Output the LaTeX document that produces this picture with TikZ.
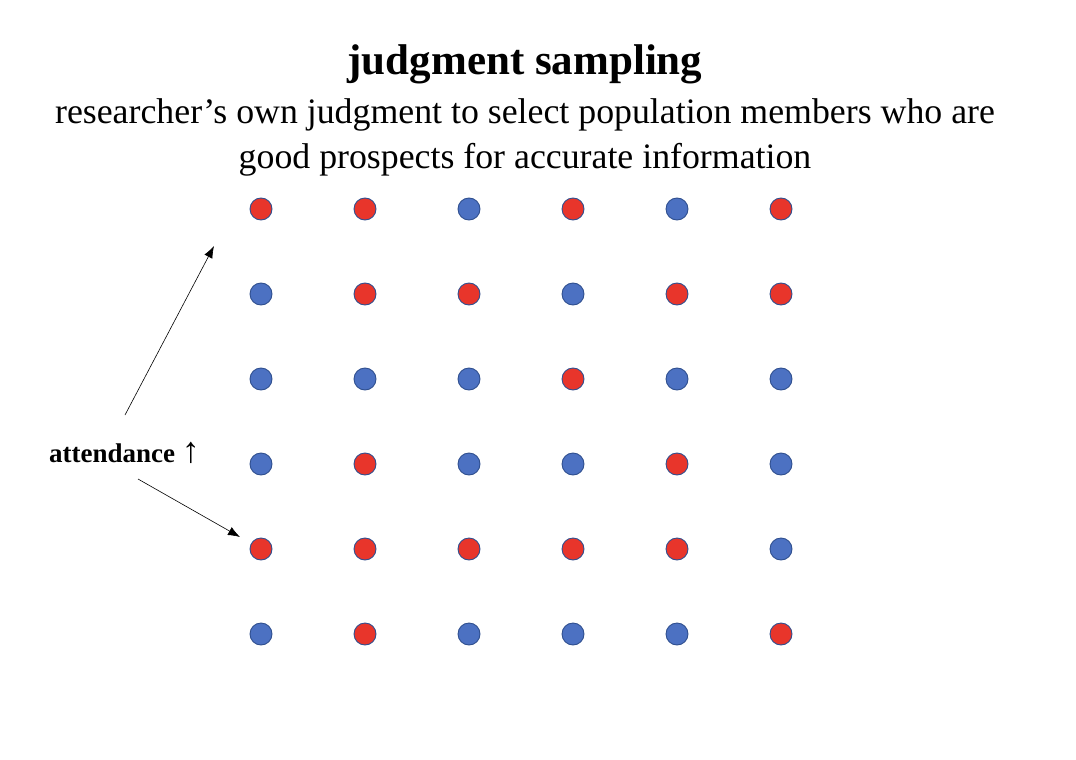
\documentclass[tikz,border=0pt]{standalone}
\usepackage{fontspec}
\setmainfont{Liberation Serif}
\usepackage{xcolor}
\usepackage{tikz}
\usetikzlibrary{arrows.meta,positioning}

\definecolor{dotred}{HTML}{E8352B}
\definecolor{dotblue}{HTML}{4C71C2}
\definecolor{dotedge}{HTML}{2F4F8F}

\tikzset{
  dot/.style={circle, minimum size=22pt, inner sep=0pt, draw=dotedge, line width=0.9pt},
  pointer/.style={-{Latex[length=12pt,width=9pt]}, line width=0.6pt}
}

\begin{document}
\begin{tikzpicture}[x=1pt,y=-1pt]
  % Frame of the slide
  \useasboundingbox (0,0) rectangle (1076,760);

  % Heading
  \node[font=\fontsize{43}{46}\selectfont\bfseries] (title) at (525,64) {judgment sampling};
  \node[font=\fontsize{35.8}{45}\selectfont, align=center] (sub) at (525,137)
    {researcher's own judgment to select population members who are\\good prospects for accurate information};

  % Grid of members: r = red (selected), b = blue
  \def\redkey{r}
  \foreach \row/\cols [count=\r] in {1/{r,r,b,r,b,r},2/{b,r,r,b,r,r},3/{b,b,b,r,b,b},
                                     4/{b,r,b,b,r,b},5/{r,r,r,r,r,b},6/{b,r,b,b,b,r}} {
    \foreach \c [count=\k] in \cols {
      \ifx\c\redkey\def\fillc{dotred}\else\def\fillc{dotblue}\fi
      \node[dot, fill=\fillc] (d-\r-\k) at (261+104*\k-104, 209+85*\r-85) {};
    }
  }

  % Label and pointers
  \node[font=\fontsize{27}{30}\selectfont\bfseries, anchor=west, inner sep=0pt] (att) at (49,453)
    {attendance {\mdseries\fontsize{36}{36}\selectfont ↑}};
  \coordinate (upfrom) at (125,415);
  \coordinate (upto) at (214,246);
  \coordinate (lowfrom) at (138,479);
  \coordinate (lowto) at (240,537);
  \draw[pointer] (upfrom) -- (upto);
  \draw[pointer] (lowfrom) -- (lowto);
\end{tikzpicture}
\end{document}
